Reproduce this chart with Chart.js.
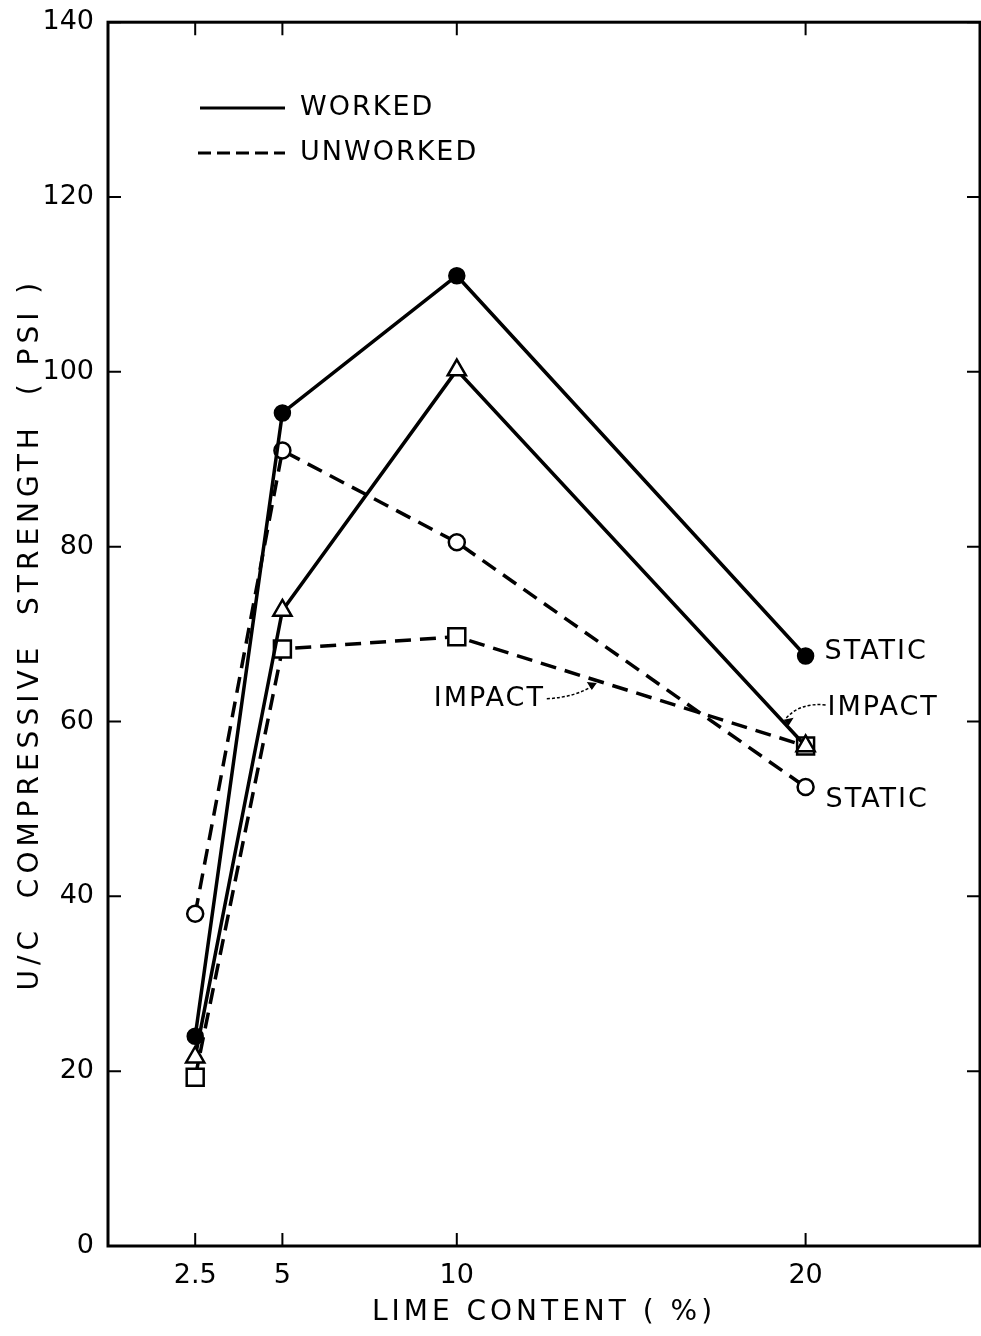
<!DOCTYPE html>
<html>
  <head>
    <title>Lime content vs compressive strength</title>
    <style>
      body { background-color: white; margin: 0; padding: 0; }
    </style>
    <script src="https://cdn.jsdelivr.net/npm/chart.js"></script>
  </head>
  <body>
    <canvas id="limeChart" width="981" height="1336"></canvas>
    <script>
      // data
      const limeContent = [2.5, 5, 10, 20];
      const workedStatic = [24, 95.3, 111, 67.5];
      const workedImpact = [21.6, 72.7, 100.2, 57.2];
      const unworkedStatic = [38, 91, 80.5, 52.5];
      const unworkedImpact = [19.3, 68.3, 69.7, 57.2];
      const xTicks = [2.5, 5, 10, 20];
      const yTicks = [0, 20, 40, 60, 80, 100, 120, 140];

      const FONT = "'DejaVu Sans', sans-serif";
      const dash = [16, 9];

      function pts(values) {
        return limeContent.map((x, i) => ({ x: x, y: values[i] }));
      }

      function series(label, values, style, fill, radius, dashed) {
        return {
          label: label,
          data: pts(values),
          borderColor: "#000",
          borderWidth: 3.5,
          borderDash: dashed ? dash : [],
          pointStyle: style,
          pointRadius: radius,
          pointBackgroundColor: fill,
          pointBorderColor: "#000",
          pointBorderWidth: 2.5,
          tension: 0
        };
      }

      // frame, inward ticks, axis titles, legend and labels
      const decorations = {
        id: "decorations",
        afterDraw(chart) {
          const ctx = chart.ctx;
          const a = chart.chartArea;
          const xs = chart.scales.x;
          const ys = chart.scales.y;
          ctx.save();
          ctx.strokeStyle = "#000";
          ctx.fillStyle = "#000";
          ctx.lineWidth = 3;
          ctx.strokeRect(a.left, a.top, a.right - a.left, a.bottom - a.top);

          ctx.lineWidth = 2;
          ctx.beginPath();
          xTicks.forEach(v => {
            const px = xs.getPixelForValue(v);
            ctx.moveTo(px, a.bottom); ctx.lineTo(px, a.bottom - 13);
            ctx.moveTo(px, a.top); ctx.lineTo(px, a.top + 13);
          });
          yTicks.forEach(v => {
            const py = ys.getPixelForValue(v);
            ctx.moveTo(a.left, py); ctx.lineTo(a.left + 13, py);
            ctx.moveTo(a.right, py); ctx.lineTo(a.right - 13, py);
          });
          ctx.stroke();

          // axis titles
          ctx.font = "28px " + FONT;
          ctx.letterSpacing = "4px";
          ctx.textAlign = "center";
          ctx.textBaseline = "middle";
          ctx.fillText("LIME CONTENT ( %)", (a.left + a.right) / 2, 1313);
          ctx.save();
          ctx.translate(31, (a.top + a.bottom) / 2);
          ctx.rotate(-Math.PI / 2);
          ctx.letterSpacing = "5px";
          ctx.fillText("U/C  COMPRESSIVE  STRENGTH  ( PSI )", 0, 0);
          ctx.restore();

          // legend
          ctx.textAlign = "left";
          ctx.letterSpacing = "2px";
          ctx.font = "27px " + FONT;
          ctx.lineWidth = 3;
          ctx.beginPath();
          ctx.moveTo(a.left + 92, 108); ctx.lineTo(a.left + 177, 108);
          ctx.stroke();
          ctx.setLineDash([13, 6]);
          ctx.beginPath();
          ctx.moveTo(a.left + 90, 153); ctx.lineTo(a.left + 177, 153);
          ctx.stroke();
          ctx.setLineDash([]);
          ctx.fillText("WORKED", a.left + 192, 108);
          ctx.fillText("UNWORKED", a.left + 192, 153);

          // curve labels
          const x20 = xs.getPixelForValue(20);
          ctx.fillText("STATIC", x20 + 19, ys.getPixelForValue(67.9));
          ctx.fillText("IMPACT", x20 + 22, ys.getPixelForValue(61.5));
          ctx.fillText("STATIC", x20 + 20, ys.getPixelForValue(51));
          ctx.fillText("IMPACT", xs.getPixelForValue(10) - 23, ys.getPixelForValue(62.6));

          // leader arrows
          ctx.lineWidth = 1.5;
          ctx.setLineDash([3, 2]);
          ctx.beginPath();
          ctx.moveTo(x20 + 20, ys.getPixelForValue(61.9));
          ctx.quadraticCurveTo(x20 - 6, ys.getPixelForValue(62.2), x20 - 20, ys.getPixelForValue(60.3));
          const xl = xs.getPixelForValue(10) + 90;
          ctx.moveTo(xl, ys.getPixelForValue(62.6));
          ctx.quadraticCurveTo(xl + 30, ys.getPixelForValue(62.8), xl + 47, ys.getPixelForValue(64.2));
          ctx.stroke();
          ctx.setLineDash([]);
          ctx.beginPath();
          let hx = x20 - 22, hy = ys.getPixelForValue(60.2);
          ctx.moveTo(hx, hy); ctx.lineTo(hx + 10, hy - 2); ctx.lineTo(hx + 5, hy + 6); ctx.closePath();
          hx = xl + 50; hy = ys.getPixelForValue(64.4);
          ctx.moveTo(hx, hy); ctx.lineTo(hx - 10, hy - 1); ctx.lineTo(hx - 5, hy + 7); ctx.closePath();
          ctx.fill();
          ctx.restore();
        }
      };

      new Chart(document.getElementById("limeChart"), {
        type: "line",
        data: {
          datasets: [
            series("Worked static", workedStatic, "circle", "#000", 7.5, false),
            series("Worked impact", workedImpact, "triangle", "#fff", 10.5, false),
            series("Unworked static", unworkedStatic, "circle", "#fff", 8, true),
            series("Unworked impact", unworkedImpact, "rect", "#fff", 12, true)
          ]
        },
        options: {
          responsive: false,
          animation: false,
          layout: { autoPadding: false, padding: { top: 22, right: 1, left: 0, bottom: 0 } },
          plugins: { legend: { display: false }, tooltip: { enabled: false } },
          scales: {
            x: {
              type: "linear",
              min: 0,
              max: 25,
              afterBuildTicks: s => { s.ticks = xTicks.map(v => ({ value: v })); },
              afterFit: s => { s.height = 90; },
              grid: { display: false },
              border: { display: false },
              ticks: {
                padding: 6,
                color: "#000",
                font: { family: FONT, size: 27 },
                maxRotation: 0,
                callback: v => String(v)
              }
            },
            y: {
              min: 0,
              max: 140,
              afterBuildTicks: s => { s.ticks = yTicks.map(v => ({ value: v })); },
              afterFit: s => { s.width = 108; },
              grid: { display: false },
              border: { display: false },
              ticks: {
                padding: 6,
                color: "#000",
                font: { family: FONT, size: 27 }
              }
            }
          }
        },
        plugins: [decorations]
      });
    </script>
  </body>
</html>
